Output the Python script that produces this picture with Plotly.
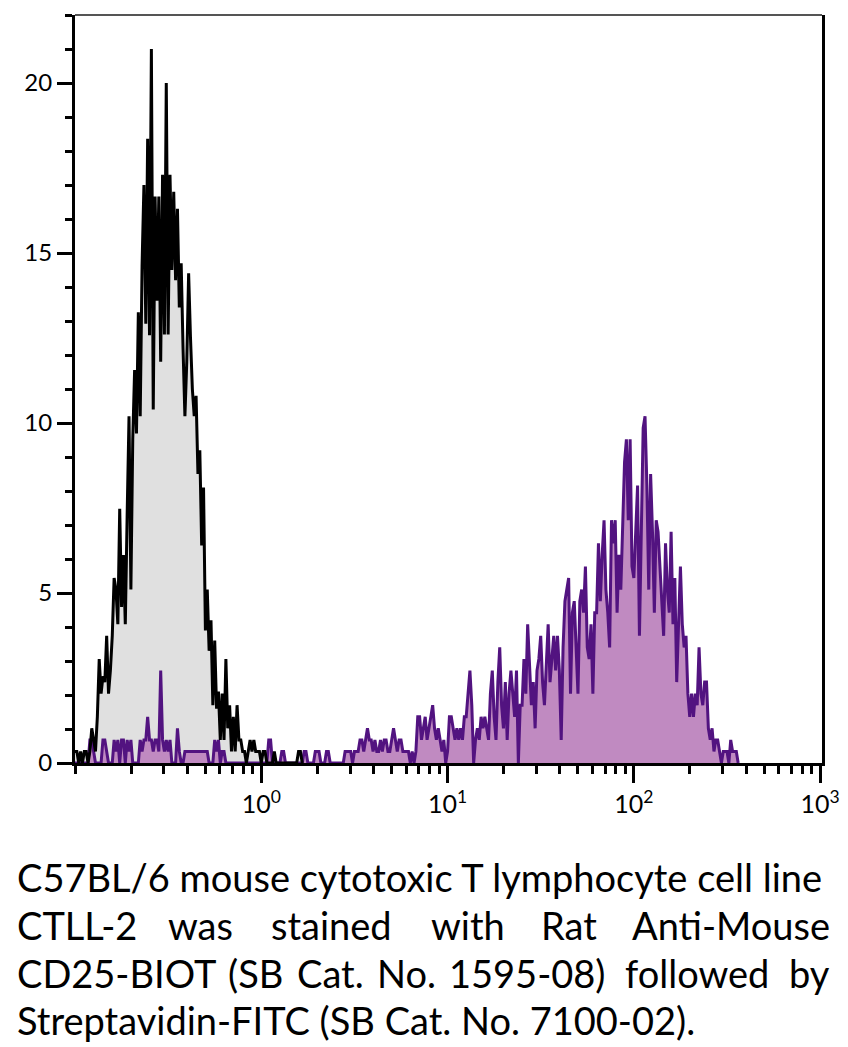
import plotly.graph_objects as go

# ---- data: histogram counts per channel (100 channels per decade, first channel at 10^-1) ----
channels_per_decade = 100
first_channel_log = -1.0

black_counts = [
    0.34, 0.34, 0, 0.34, 0, 0.34, 0.34, 0, 0.34, 1.02,
    0.68, 0.34, 1.36, 3.06, 2.04, 2.55, 2.38, 3.74, 2.04, 2.72,
    3.74, 5.44, 5.1, 4.08, 7.48, 4.59, 6.12, 4.08, 7.31, 10.2,
    5.1, 9.52, 11.56, 9.69, 13.26, 10.2, 14.62, 17.0, 12.92, 18.36,
    12.58, 21.0, 10.4, 16.66, 13.6, 16.66, 11.8, 17.3, 12.6, 20.0,
    12.6, 17.3, 14.5, 16.8, 14.2, 16.3, 13.4, 14.7, 12.2, 10.2,
    11.8, 14.4, 12.5, 11.0, 10.2, 10.8, 8.5, 9.2, 6.4, 8.1,
    3.9, 5.1, 3.3, 4.2, 1.7, 3.6, 1.6, 2.1, 0.68, 2.04,
    0.68, 3.06, 1.02, 1.7, 0.34, 1.36, 0.34, 1.7, 0.68, 0.68,
    0.34, 0.34, 0, 0.34, 0.68, 0.34, 0.68, 0.34, 0.34, 0.34,
    0, 0.34, 0.34, 0, 0, 0, 0, 0.34, 0, 0,
    0, 0, 0, 0, 0, 0, 0, 0, 0, 0,
    0.34, 0.34, 0,
]

purple_counts = [
    0, 0, 0, 0, 0, 0, 0, 0, 0.68, 0.68,
    0.34, 0, 0, 0, 0, 0.68, 0.68, 0.34, 0, 0,
    0, 0.68, 0.34, 0.68, 0, 0.68, 0.68, 0, 0.68, 0.34,
    0.68, 0, 0, 0, 0, 0.68, 0.34, 0.68, 0.68, 1.36,
    0.68, 0.68, 0.34, 0.68, 0.68, 0.34, 2.72, 0.68, 0.34, 0.68,
    0.34, 0.68, 0, 0, 0, 1.02, 0.34, 0, 0, 0.34,
    0.34, 0.34, 0.34, 0.34, 0.34, 0.34, 0.34, 0.34, 0.34, 0.34,
    0.34, 0.34, 0, 0, 0, 0.68, 0.34, 0.68, 0, 0.34,
    0.34, 0, 0, 0, 0, 0, 0, 0, 0, 0,
    0, 0, 0, 0, 0, 0, 0, 0, 0, 0,
    0, 0, 0, 0, 0.68, 0.68, 0, 0, 0, 0,
    0, 0.34, 0.34, 0, 0, 0, 0, 0, 0, 0,
    0, 0, 0, 0.34, 0.34, 0, 0, 0, 0, 0.34,
    0.34, 0.34, 0, 0, 0, 0.34, 0.34, 0, 0, 0,
    0, 0, 0, 0, 0, 0.34, 0.34, 0.34, 0.34, 0,
    0.34, 0.34, 0.34, 0.68, 0.68, 0.34, 0.68, 1.02, 0.68, 0.68,
    0.34, 0.68, 0.34, 0.34, 0.68, 0.34, 0.68, 0.68, 0.34, 0.34,
    0.68, 1.02, 0.68, 0.34, 0.68, 0.68, 0.34, 0.34, 0.34, 0.34,
    0, 0.34, 0, 0.34, 1.36, 1.36, 0.68, 1.02, 1.36, 0.68,
    1.02, 1.36, 1.7, 1.02, 0.68, 1.02, 0.68, 0.34, 0.68, 0,
    0.34, 1.36, 1.36, 1.02, 0.68, 1.02, 0.68, 1.02, 0.68, 1.36,
    1.36, 2.04, 2.72, 1.7, 0, 0.68, 1.02, 0.68, 1.36, 1.02,
    1.36, 1.02, 0.68, 2.04, 2.72, 1.36, 0.68, 2.38, 3.4, 1.7,
    1.02, 2.38, 0.68, 2.04, 2.72, 2.04, 1.36, 2.72, 0, 1.7,
    1.7, 3.06, 2.04, 4.08, 2.72, 1.7, 2.38, 1.02, 2.72, 3.06,
    3.74, 2.38, 1.7, 2.72, 4.08, 2.38, 3.06, 3.74, 2.72, 3.74,
    2.72, 0.68, 3.4, 4.76, 5.1, 5.44, 2.04, 4.42, 4.76, 3.4,
    2.04, 4.76, 5.1, 4.42, 5.78, 3.4, 3.06, 4.08, 2.04, 4.42,
    4.42, 6.46, 4.76, 6.12, 7.14, 5.1, 4.42, 3.4, 7.14, 6.46,
    7.14, 4.42, 6.12, 5.1, 7.14, 8.84, 9.52, 7.14, 9.52, 5.78,
    5.44, 7.14, 8.16, 3.74, 7.48, 9.86, 10.2, 8.16, 5.1, 8.5,
    6.8, 4.42, 7.14, 6.8, 5.78, 4.76, 3.74, 6.46, 5.1, 4.42,
    6.8, 4.08, 5.44, 2.38, 4.08, 5.78, 4.08, 3.4, 3.74, 2.04,
    1.36, 2.04, 1.36, 2.04, 1.7, 3.4, 2.04, 1.7, 2.38, 2.38,
    1.02, 0.68, 1.02, 0.34, 0.68, 0.68, 0.34, 0, 0.34, 0.34,
    0.34, 0, 0.68, 0.34, 0.34, 0.34, 0,
]

y_tick_values = [0, 5, 10, 15, 20]
x_tick_values = [1, 10, 100, 1000]
x_tick_labels = ["10<sup>0</sup>", "10<sup>1</sup>", "10<sup>2</sup>", "10<sup>3</sup>"]

caption_lines = [
    ["C57BL/6 mouse cytotoxic T lymphocyte cell line"],
    ["CTLL-2", "was", "stained", "with", "Rat", "Anti-Mouse"],
    ["CD25-BIOT", "(SB", "Cat.", "No.", "1595-08)", "followed", "by"],
    ["Streptavidin-FITC (SB Cat. No. 7100-02)."],
]


def channel_x(n):
    return [10 ** (first_channel_log + i / channels_per_decade) for i in range(n)]


xb = channel_x(len(black_counts))
xp = channel_x(len(purple_counts))

FONT = "Lato, Noto Sans, sans-serif"

fig = go.Figure()
fig.add_trace(go.Scatter(x=xb, y=black_counts, mode="lines", fill="tozeroy",
                         fillcolor="#e0e0e0", line=dict(width=0, color="rgba(0,0,0,0)"),
                         hoverinfo="skip", showlegend=False))
fig.add_trace(go.Scatter(x=xp, y=purple_counts, mode="lines", fill="tozeroy",
                         fillcolor="#c08ac1", line=dict(width=3, color="#521380"),
                         showlegend=False))
fig.add_trace(go.Scatter(x=xb, y=black_counts, mode="lines",
                         line=dict(width=3, color="#000000"), showlegend=False))

# page body has an 8px margin: compensate so the page matches the target pixel layout
OFF = 8
PAGE_W, PAGE_H = 848, 1047
W, H = PAGE_W - OFF, PAGE_H - OFF
# plot area in page pixels: x 75..822, y 15..763
L = 75 - OFF
T = 15 - OFF
R = W - (822 - OFF)
B = H - (763 - OFF)
pw = W - L - R
ph = H - T - B

fig.update_layout(
    width=W, height=H,
    margin=dict(l=L, r=R, t=T, b=B),
    paper_bgcolor="white", plot_bgcolor="white",
    font=dict(family=FONT, color="black", size=24),
    xaxis=dict(
        type="log", range=[-1, 3.01],
        tickvals=x_tick_values, ticktext=x_tick_labels,
        ticks="outside", ticklen=17, tickwidth=3, tickcolor="black",
        showline=True, linecolor="black", linewidth=3,
        showgrid=False, zeroline=False,
        tickfont=dict(size=25, family=FONT),
        minor=dict(ticks="outside", ticklen=8, tickwidth=2.5, tickcolor="black",
                   dtick="D1", showgrid=False),
    ),
    yaxis=dict(
        range=[0, 22],
        tickvals=y_tick_values,
        ticks="outside", ticklen=15, tickwidth=3, tickcolor="black",
        showline=True, linecolor="black", linewidth=3, mirror=True,
        showgrid=False, zeroline=False,
        tickfont=dict(size=24, family=FONT),
        minor=dict(ticks="outside", ticklen=7, tickwidth=2.5, tickcolor="black",
                   dtick=1, showgrid=False),
    ),
)

# thin grey top frame line
fig.add_shape(type="line", xref="paper", yref="paper", x0=0, x1=1, y0=1, y1=1,
              line=dict(color="#555555", width=2))

# caption: anchor positions in page pixels (lines 2-3 justified word by word)
word_px = [
    [(15, "left")],
    [(15, "left"), (200, "center"), (331, "center"), (468, "center"), (569, "center"), (832, "right")],
    [(15, "left"), (255, "center"), (330, "center"), (406, "center"), (527, "center"), (697, "center"), (832, "right")],
    [(15, "left")],
]
line_centers_px = [877, 925, 973, 1020]

for words, pos, yc in zip(caption_lines, word_px, line_centers_px):
    for w, (px, anchor) in zip(words, pos):
        fx = px - OFF
        fy = yc - OFF
        fig.add_annotation(
            x=(fx - L) / pw, y=(H - B - fy) / ph, xref="paper", yref="paper",
            text=w, showarrow=False, xanchor=anchor, yanchor="middle",
            font=dict(family=FONT, size=38, color="black"),
        )

fig.write_html("out.html")
